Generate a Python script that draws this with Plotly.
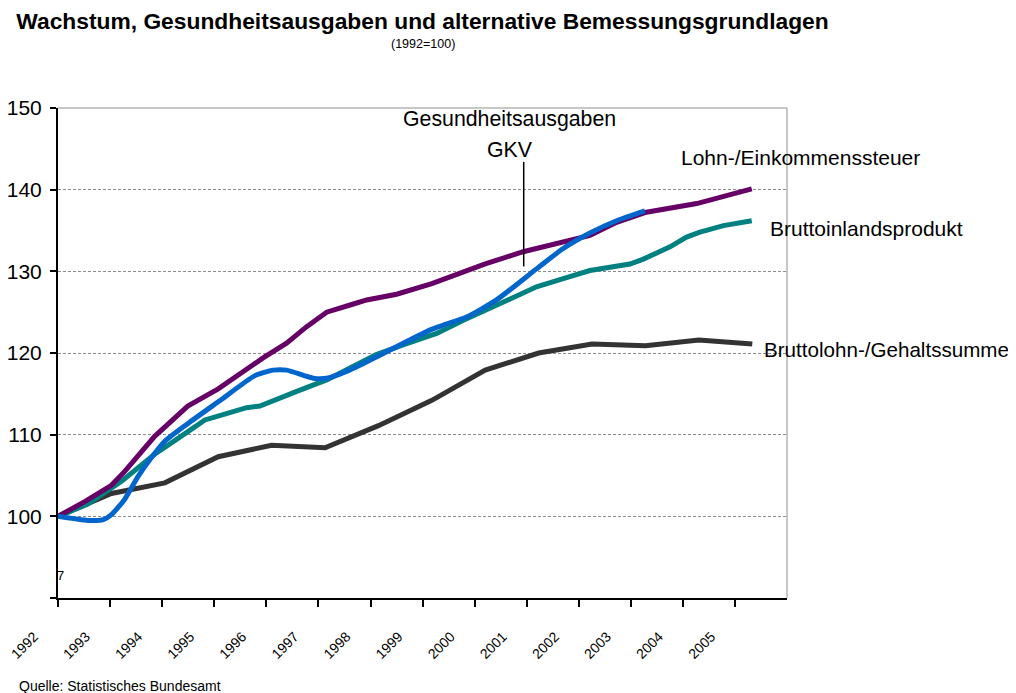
import plotly.graph_objects as go

# ---- data (index 1992 = 100), x in (fractional) years ----
lohnsteuer_x = [1992.00, 1992.50, 1993.00, 1993.25, 1993.81, 1994.43, 1995.00, 1995.68, 1995.84,
                1996.28, 1996.65, 1997.03, 1997.34, 1997.53, 1997.78, 1997.96, 1998.34, 1999.00,
                2000.00, 2000.71, 2001.46, 2001.96, 2002.46, 2002.99, 2003.96, 2004.46, 2004.99]
lohnsteuer_y = [100.0, 101.8, 103.8, 105.5, 109.8, 113.5, 115.6, 118.7, 119.4,
                121.2, 123.2, 125.0, 125.7, 126.0, 126.5, 126.7, 127.2, 128.5,
                130.9, 132.4, 133.6, 134.4, 136.0, 137.2, 138.3, 139.1, 140.1]

bip_x = [1992.00, 1992.56, 1993.19, 1993.81, 1994.44, 1994.75, 1995.06, 1995.53, 1995.78, 1996.03,
         1996.47, 1997.03, 1997.46, 1997.96, 1998.46, 1999.09, 1999.59, 2000.21, 2000.96, 2001.46,
         2001.96, 2002.71, 2002.96, 2003.46, 2003.77, 2004.02, 2004.46, 2004.99]
bip_y = [100.0, 101.5, 104.3, 107.6, 110.4, 111.8, 112.4, 113.3, 113.5, 114.1,
         115.3, 116.7, 118.1, 119.8, 121.0, 122.4, 124.0, 125.9, 128.1, 129.1,
         130.1, 130.9, 131.5, 133.0, 134.2, 134.8, 135.6, 136.2]

gkv_x = [1992.00, 1992.56, 1992.85, 1993.00, 1993.25, 1993.50, 1993.75, 1994.00, 1994.44, 1995.06,
         1995.68, 1996.03, 1996.28, 1996.78, 1997.03, 1997.46, 1997.96, 1998.96, 1999.21, 1999.65,
         2000.21, 2000.96, 2001.46, 2001.96, 2002.46, 2002.99]
gkv_y = [100.0, 99.5, 99.6, 100.2, 102.1, 104.9, 107.2, 109.2, 111.4, 114.3,
         117.2, 117.9, 117.9, 116.9, 116.9, 117.9, 119.5, 122.8, 123.4, 124.4,
         126.5, 130.3, 132.8, 134.7, 136.2, 137.4]

bruttolohn_x = [1992, 1993, 1994, 1995, 1996, 1997, 1998, 1999, 2000, 2001, 2002, 2003, 2004, 2005]
bruttolohn_y = [100.0, 102.8, 104.1, 107.3, 108.7, 108.4, 111.1, 114.2, 117.9, 120.0, 121.1, 120.9, 121.6, 121.1]

tick_labels = ["1992", "1993", "1994", "1995", "1996", "1997", "1998", "1999",
               "2000", "2001", "2002", "2003", "2004", "2005", ""]
y_ticks = [90, 100, 110, 120, 130, 140, 150]
y_ticktext = ["", "100", "110", "120", "130", "140", "150"]

# axis geometry (category ticks are slightly narrower than the data year spacing)
X_START = 1992.0
X_END = 2005.65
TICK_STEP = 0.9755
tick_vals = [X_START + i * TICK_STEP for i in range(len(tick_labels))]

PURPLE = "#660066"
TEAL = "#008080"
BLUE = "#0066CC"
DARK = "#333333"

fig = go.Figure()
fig.add_trace(go.Scatter(x=bruttolohn_x, y=bruttolohn_y, mode="lines",
                         line=dict(color=DARK, width=5), name="Bruttolohn-/Gehaltssumme"))
fig.add_trace(go.Scatter(x=bip_x, y=bip_y, mode="lines",
                         line=dict(color=TEAL, width=5), name="Bruttoinlandsprodukt"))
fig.add_trace(go.Scatter(x=lohnsteuer_x, y=lohnsteuer_y, mode="lines",
                         line=dict(color=PURPLE, width=5), name="Lohn-/Einkommenssteuer"))
fig.add_trace(go.Scatter(x=gkv_x, y=gkv_y, mode="lines",
                         line=dict(color=BLUE, width=5, shape="spline", smoothing=0.6),
                         name="Gesundheitsausgaben GKV"))

FONT = "Liberation Sans, Arial, sans-serif"

# the page body adds an 8px offset; layout is specified in figure pixels
BODY = 8
FIG_W = 1016 - BODY
FIG_H = 693 - BODY
PLOT_L = 58 - BODY
PLOT_TOP = 108 - BODY
PLOT_W = 729
PLOT_H = 490


def sy(py):  # screen y -> paper y
    return (PLOT_TOP + PLOT_H - (py - BODY)) / PLOT_H


def sx(px):  # screen x -> paper x
    return (px - BODY - PLOT_L) / PLOT_W


fig.update_layout(
    width=FIG_W, height=FIG_H,
    margin=dict(l=PLOT_L, r=FIG_W - PLOT_L - PLOT_W, t=PLOT_TOP, b=FIG_H - PLOT_TOP - PLOT_H,
                autoexpand=False),
    paper_bgcolor="white", plot_bgcolor="white",
    showlegend=False,
    font=dict(family=FONT, color="black"),
    title=dict(text="<b>Wachstum, Gesundheitsausgaben und alternative Bemessungsgrundlagen</b>",
               x=0.5, xref="paper", xanchor="center",
               y=1 - (21 - BODY) / FIG_H, yref="container", yanchor="middle",
               font=dict(family=FONT, size=22.8, color="black")),
)

fig.update_xaxes(
    range=[X_START, X_END], automargin=False,
    tickmode="array", tickvals=tick_vals, ticktext=tick_labels,
    tickangle=-45, ticks="outside", ticklen=7, tickwidth=2, tickcolor="black",
    ticklabelshift=-24, ticklabelstandoff=16, ticklabeloverflow="allow",
    tickfont=dict(family=FONT, size=14, color="black"),
    showline=True, linecolor="black", linewidth=2,
    showgrid=False, zeroline=False,
)
fig.update_yaxes(
    range=[90, 150], automargin=False,
    tickmode="array", tickvals=y_ticks, ticktext=y_ticktext,
    ticks="outside", ticklen=6, tickwidth=2, tickcolor="black",
    ticklabelstandoff=4,
    tickfont=dict(family=FONT, size=21, color="black"),
    showline=True, linecolor="black", linewidth=2,
    showgrid=True, gridcolor="#8c8c8c", gridwidth=1, griddash="3px,2px",
    zeroline=False,
)

# light grey plot-area border at top and right
fig.add_shape(type="line", xref="paper", yref="paper", x0=0, x1=1, y0=1, y1=1,
              line=dict(color="#b4b4b4", width=1.5), layer="above")
fig.add_shape(type="line", xref="paper", yref="paper", x0=1, x1=1, y0=0, y1=1,
              line=dict(color="#b4b4b4", width=1.5), layer="above")

# pointer line for the GKV label
fig.add_shape(type="line", xref="x", yref="y", x0=2000.72, x1=2000.72, y0=130.6, y1=143.4,
              line=dict(color="black", width=1.5))

annos = [
    dict(text="Gesundheitsausgaben", x=2000.46, y=148.6, xanchor="center", size=21.3),
    dict(text="GKV", x=2000.46, y=144.9, xanchor="center", size=21.3),
    dict(text="Lohn-/Einkommenssteuer", x=2003.62, y=143.9, xanchor="left", size=21.0),
    dict(text="Bruttoinlandsprodukt", x=2005.30, y=135.2, xanchor="left", size=21.0),
    dict(text="Bruttolohn-/Gehaltssumme", x=2005.18, y=120.4, xanchor="left", size=20.6),
]
for a in annos:
    fig.add_annotation(text=a["text"], x=a["x"], y=a["y"], xref="x", yref="y",
                       xanchor=a["xanchor"], yanchor="middle", showarrow=False,
                       font=dict(family=FONT, size=a["size"], color="black"))

fig.add_annotation(text="(1992=100)", x=0.5, xref="paper", y=sy(44), yref="paper",
                   xanchor="center", yanchor="middle", showarrow=False,
                   font=dict(family=FONT, size=12.5, color="black"))
fig.add_annotation(text="Quelle: Statistisches Bundesamt", x=sx(17), xref="paper",
                   y=sy(686), yref="paper", xanchor="left", yanchor="middle",
                   showarrow=False, font=dict(family=FONT, size=14, color="black"))
fig.add_annotation(text="7", x=sx(60), xref="paper", y=92.8, yref="y",
                   xanchor="center", yanchor="middle", showarrow=False,
                   font=dict(family=FONT, size=13, color="black"))

fig.write_html("out.html")
